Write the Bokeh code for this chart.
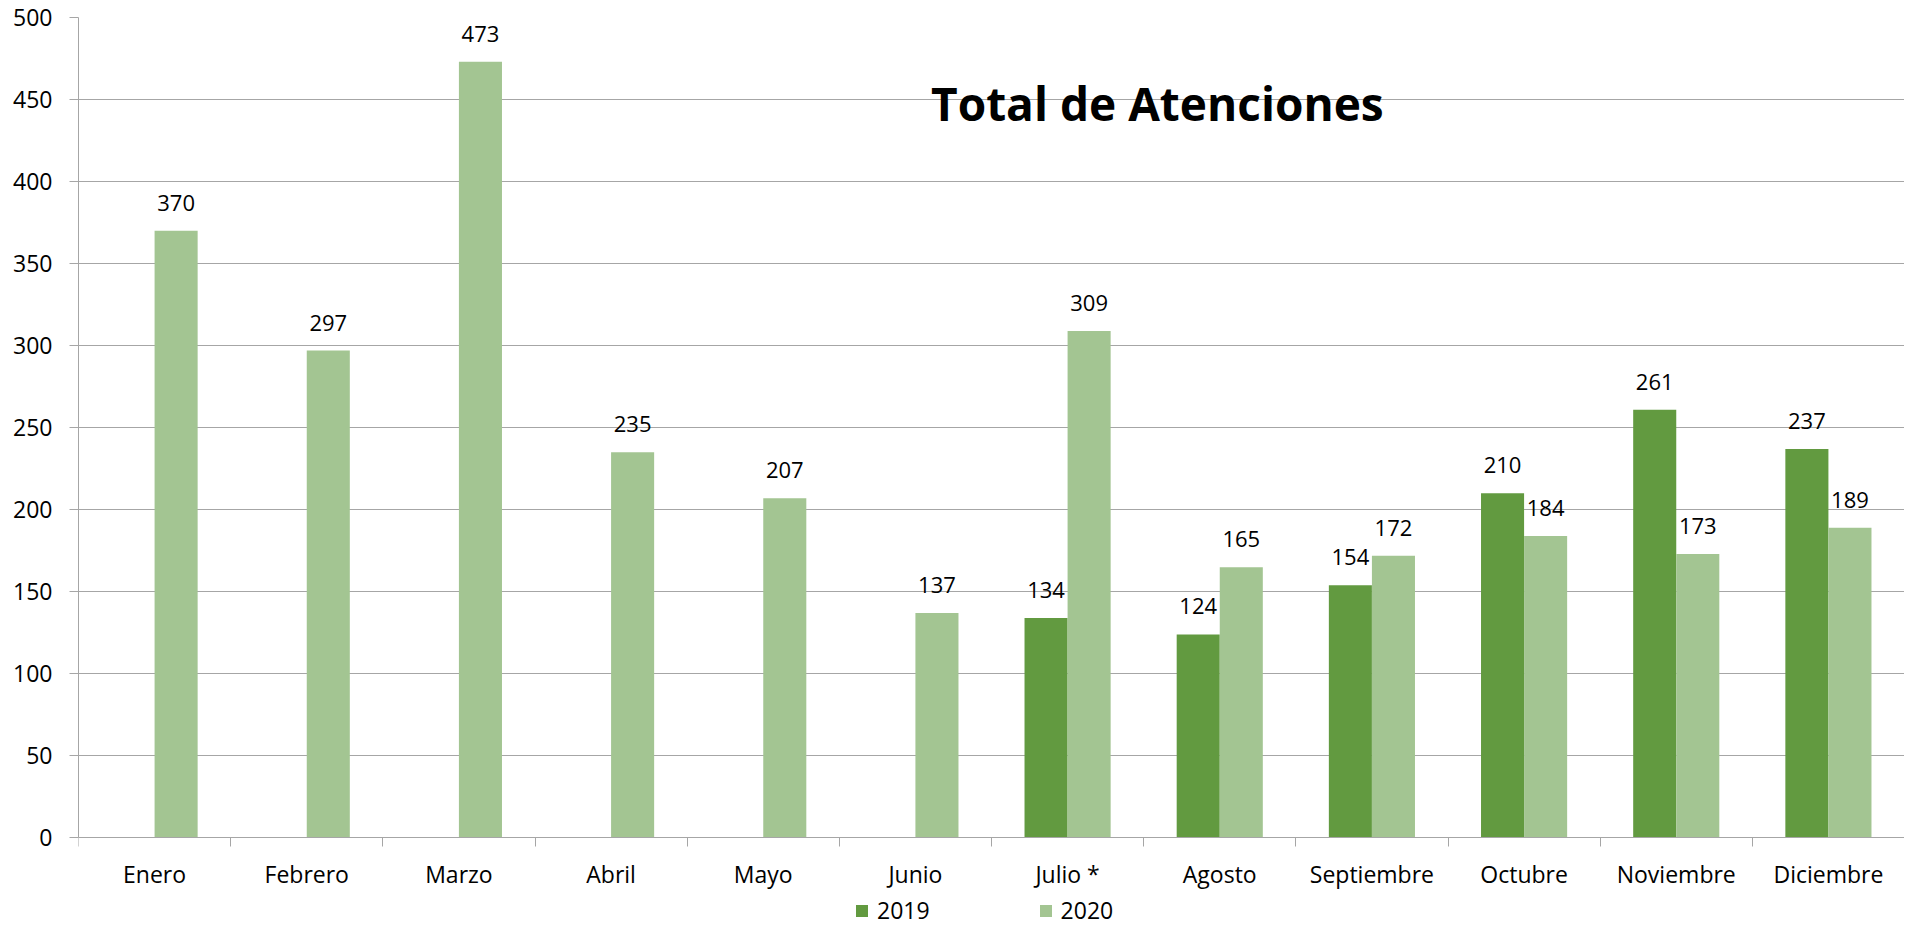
from bokeh.plotting import figure
from bokeh.models import Range1d, FixedTicker, Legend, LegendItem, Label, ColumnDataSource
from bokeh.core.properties import value
from bokeh.embed import file_html
from bokeh.resources import INLINE

months = ["Enero", "Febrero", "Marzo", "Abril", "Mayo", "Junio", "Julio *",
          "Agosto", "Septiembre", "Octubre", "Noviembre", "Diciembre"]
v2019 = [None, None, None, None, None, None, 134, 124, 154, 210, 261, 237]
v2020 = [370, 297, 473, 235, 207, 137, 309, 165, 172, 184, 173, 189]
series_names = ["2019", "2020"]
y_ticks = list(range(0, 501, 50))
title_text = "Total de Atenciones"

C19 = "#629a40"
C20 = "#a3c592"
GRAY = "#a6a6a6"
FONT = "Open Sans"
BAR_W = 0.283
Y_MIN, Y_MAX = -54, 500   # negative part leaves room for month labels and legend

p = figure(frame_width=1826, frame_height=909,
           x_range=Range1d(0, len(months)), y_range=Range1d(Y_MIN, Y_MAX),
           output_backend="svg", toolbar_location=None,
           min_border_left=78, min_border_top=17, min_border_right=0, min_border_bottom=0)
p.outline_line_color = None
p.background_fill_color = "white"

i19 = [i for i, v in enumerate(v2019) if v is not None]
src19 = ColumnDataSource(dict(
    x=[i + 0.5 - BAR_W / 2 for i in i19],
    top=[v2019[i] for i in i19],
    lab=[str(v2019[i]) for i in i19]))
src20 = ColumnDataSource(dict(
    x=[i + 0.5 + BAR_W / 2 for i in range(len(v2020))],
    top=v2020,
    lab=[str(v) for v in v2020]))

r19 = p.vbar(x="x", top="top", bottom=0, width=BAR_W, source=src19,
             fill_color=C19, line_color=None)
r20 = p.vbar(x="x", top="top", bottom=0, width=BAR_W, source=src20,
             fill_color=C20, line_color=None)

for src in (src19, src20):
    p.text(x="x", y="top", text="lab", source=src, text_align="center",
           text_baseline="alphabetic", y_offset=-28, text_color="black",
           text_font=value(FONT), text_font_size="22px")

xa = p.xaxis[0]
xa.fixed_location = 0
xa.ticker = FixedTicker(ticks=[i + 0.5 for i in range(len(months))],
                        minor_ticks=list(range(len(months) + 1)))
xa.major_label_overrides = {i + 0.5: m for i, m in enumerate(months)}
xa.major_tick_line_color = None
xa.major_tick_out = 0
xa.major_tick_in = 0
xa.minor_tick_line_color = GRAY
xa.minor_tick_out = 9
xa.minor_tick_in = 0
xa.axis_line_color = GRAY
xa.major_label_text_font = FONT
xa.major_label_text_font_size = "23px"
xa.major_label_text_color = "black"
xa.major_label_standoff = 11

ya = p.yaxis[0]
ya.ticker = FixedTicker(ticks=y_ticks, minor_ticks=[])
ya.bounds = (0, Y_MAX)
ya.major_tick_line_color = GRAY
ya.major_tick_out = 9
ya.major_tick_in = 0
ya.minor_tick_line_color = None
ya.axis_line_color = GRAY
ya.major_label_text_font = FONT
ya.major_label_text_font_size = "23px"
ya.major_label_text_color = "black"
ya.major_label_standoff = 17

p.xgrid.grid_line_color = None
p.ygrid.grid_line_color = GRAY
p.ygrid.grid_line_width = 1

p.add_layout(Label(x=7.09, y=448, text=title_text, text_align="center",
                   text_baseline="alphabetic", text_font=FONT,
                   text_font_style="bold", text_font_size="46px",
                   text_color="black"))

legend = Legend(items=[LegendItem(label=series_names[0], renderers=[r19]),
                       LegendItem(label=series_names[1], renderers=[r20])],
                orientation="horizontal", location=(776, 0),
                glyph_width=15, glyph_height=15, label_standoff=8, spacing=108,
                label_height=15, padding=0, margin=0, border_line_color=None,
                label_text_font=FONT, label_text_font_size="23px",
                label_text_color="black", background_fill_alpha=0)
p.add_layout(legend)

open("out.html", "w").write(file_html(p, INLINE))
